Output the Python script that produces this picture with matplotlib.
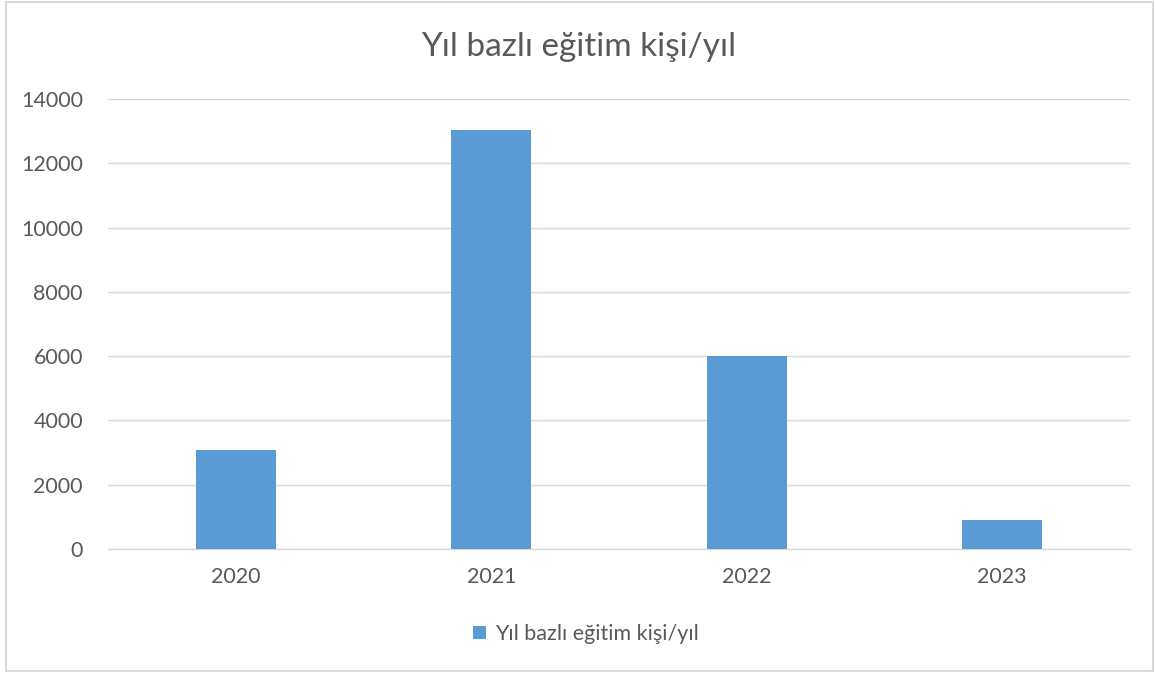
import matplotlib.pyplot as plt
from matplotlib.patches import Rectangle

years = ["2020", "2021", "2022", "2023"]
values = [3080, 13040, 6005, 900]
series_name = "Yıl bazlı eğitim kişi/yıl"
y_ticks = [0, 2000, 4000, 6000, 8000, 10000, 12000, 14000]

BAR_COLOR = "#5B9BD5"
TEXT_COLOR = "#595959"
GRID_COLOR = "#D9D9D9"

plt.rcParams["font.family"] = ["Lato", "DejaVu Sans"]

W, H = 1155, 675
fig = plt.figure(figsize=(W / 100, H / 100), dpi=100)
ax = fig.add_axes([108 / W, 1 - 549 / H, (1130 - 108) / W, (549 - 99) / H])

x = range(len(years))
ax.bar(x, values, width=0.313, color=BAR_COLOR, label=series_name, zorder=3)
ax.set_xlim(-0.5, len(years) - 0.5)
ax.set_ylim(0, 14000)
ax.set_xticks(list(x))
ax.set_xticklabels(years)
ax.set_yticks(y_ticks)
ax.set_yticklabels([str(t) for t in y_ticks])
ax.tick_params(axis="both", length=0, labelsize=15.5, colors=TEXT_COLOR)
ax.tick_params(axis="y", pad=18)
ax.tick_params(axis="x", pad=13)
ax.grid(axis="y", color=GRID_COLOR, linewidth=1, zorder=0)
for side in ["top", "right", "left"]:
    ax.spines[side].set_visible(False)
ax.spines["bottom"].set_color(GRID_COLOR)
ax.spines["bottom"].set_linewidth(1)

fig.text(579 / W, 1 - 47 / H, series_name, ha="center", va="center",
         fontsize=24, color=TEXT_COLOR)

fig.legend(loc="center", bbox_to_anchor=(586 / W, 1 - 634 / H), frameon=False,
           fontsize=15.5, labelcolor=TEXT_COLOR, handlelength=0.6, handleheight=0.6,
           handletextpad=0.4)

# chart frame
fig.patches.append(Rectangle((6 / W, 1 - 671 / H), (1153 - 6) / W, (670 - 1) / H,
                             transform=fig.transFigure, fill=False,
                             edgecolor=GRID_COLOR, linewidth=1.5))

fig.savefig("out.png", dpi=100)
